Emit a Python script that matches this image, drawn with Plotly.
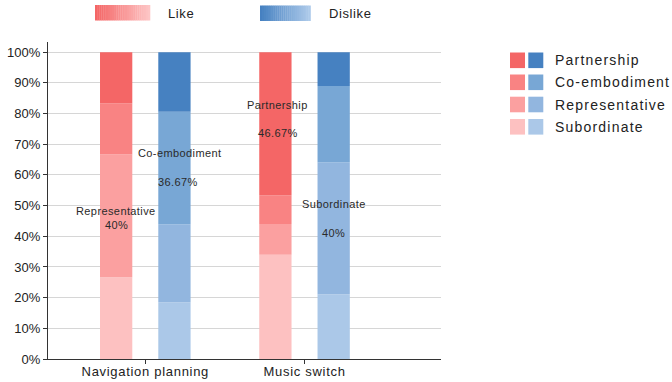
import plotly.graph_objects as go

# Share of participants per collaboration style, stacked bottom to top
categories = ["Navigation planning", "Music switch"]
levels = ["Subordinate", "Representative", "Co-embodiment", "Partnership"]

like_subordinate = [26.67, 34.0]
like_representative = [40.0, 10.0]
like_coembodiment = [16.66, 9.33]
like_partnership = [16.67, 46.67]

dislike_subordinate = [18.5, 21.1]
dislike_representative = [25.4, 43.0]
dislike_coembodiment = [36.67, 24.9]
dislike_partnership = [19.43, 11.0]

y_ticks = [0, 10, 20, 30, 40, 50, 60, 70, 80, 90, 100]

like_colors = ["#FDC1C1", "#FBA0A0", "#F98383", "#F46666"]
dislike_colors = ["#ABC8E8", "#92B6DF", "#78A7D5", "#4681C1"]

FONT = "Liberation Sans, Arial, sans-serif"


def spaced(text, px):
    return f'<span style="letter-spacing:{px}px">{text}</span>'


fig = go.Figure()


def add_stack(series, colors, group, name):
    base = [0.0] * len(categories)
    for level, vals, col in zip(levels, series, colors):
        fig.add_trace(go.Bar(
            x=categories, y=vals, base=list(base),
            name=f"{name} - {level}",
            offsetgroup=group,
            marker=dict(color=col, line=dict(width=0)),
            showlegend=False,
            hovertemplate=f"{name} / {level}: %{{y}}%<extra></extra>",
        ))
        base = [b + v for b, v in zip(base, vals)]


add_stack([like_subordinate, like_representative, like_coembodiment, like_partnership],
          like_colors, "like", "Like")
add_stack([dislike_subordinate, dislike_representative, dislike_coembodiment, dislike_partnership],
          dislike_colors, "dislike", "Dislike")

bar_shift = 29  # half the distance between the paired bars, in px

annotations = []


def label(cat, side, y, text, nudge=0):
    annotations.append(dict(
        x=cat, y=y, xref="x", yref="y", text=spaced(text, 0.4),
        showarrow=False, xshift=side * bar_shift + nudge,
        font=dict(family=FONT, size=11, color="#2a2a2a"),
    ))


label(categories[0], 1, 67.0, "Co-embodiment", 5)
label(categories[0], 1, 57.8, f"{dislike_coembodiment[0]:g}%", 4)
label(categories[0], -1, 48.3, "Representative")
label(categories[0], -1, 43.6, f"{like_representative[0]:g}%")
label(categories[1], -1, 82.7, "Partnership", 2)
label(categories[1], -1, 73.5, f"{like_partnership[1]:g}%", 2)
label(categories[1], 1, 50.4, "Subordinate")
label(categories[1], 1, 41.1, "40%")

W, H = 672, 382
shapes = []


def px_rect(x0, y0, x1, y1, color):
    shapes.append(dict(type="rect", xref="paper", yref="paper",
                       x0=x0, x1=x1, y0=y0, y1=y1,
                       fillcolor=color, line=dict(width=0), layer="above"))


# paper coordinates for a pixel box (plot area 48..441 x 42..359)
L, R, T, B = 48, 441, 42, 359


def to_paper_x(px):
    return (px - L) / (R - L)


def to_paper_y(py):
    return (B - py) / (B - T)


def hex_rgb(h):
    h = h.lstrip("#")
    return tuple(int(h[i:i + 2], 16) for i in (0, 2, 4))


def gradient_box(x0, x1, y0, y1, c0, c1, steps=26):
    a, b = hex_rgb(c0), hex_rgb(c1)
    for i in range(steps):
        t = i / (steps - 1)
        col = "rgb({},{},{})".format(*[round(a[k] + (b[k] - a[k]) * t) for k in range(3)])
        xa = x0 + (x1 - x0) * i / steps
        xb = x0 + (x1 - x0) * (i + 1) / steps + 0.3
        px_rect(to_paper_x(xa), to_paper_y(y1), to_paper_x(xb), to_paper_y(y0), col)


# header legend with gradient swatches
gradient_box(95, 150, 5, 20.5, "#F46666", "#FDC5C5")
gradient_box(260, 310.5, 5.5, 21, "#4681C1", "#ADCAEA")
for text, xpx in [("Like", 166), ("Dislike", 327)]:
    annotations.append(dict(
        x=to_paper_x(xpx), y=to_paper_y(13.3), xref="paper", yref="paper",
        text=spaced(text, 0.6), showarrow=False, xanchor="left", yanchor="middle",
        font=dict(family=FONT, size=13, color="#222222"),
    ))

# side legend: paired swatches per level, top to bottom
row_centers = [60.3, 82.3, 104.5, 126.8]
for i, level in enumerate(reversed(levels)):
    yc = row_centers[i]
    lc = like_colors[len(levels) - 1 - i]
    dc = dislike_colors[len(levels) - 1 - i]
    px_rect(to_paper_x(510), to_paper_y(yc + 7.8), to_paper_x(525), to_paper_y(yc - 7.8), lc)
    px_rect(to_paper_x(528.3), to_paper_y(yc + 7.8), to_paper_x(543.3), to_paper_y(yc - 7.8), dc)
    annotations.append(dict(
        x=to_paper_x(553), y=to_paper_y(yc), xref="paper", yref="paper",
        text=spaced(level, 1.2), showarrow=False, xanchor="left", yanchor="middle",
        font=dict(family=FONT, size=14, color="#222222"),
    ))

fig.update_layout(
    width=W, height=H,
    margin=dict(l=L, r=W - R, t=T, b=H - B, pad=0, autoexpand=False),
    paper_bgcolor="white", plot_bgcolor="white",
    barmode="group", bargap=0.268, bargroupgap=0.446,
    showlegend=False,
    font=dict(family=FONT, size=13, color="#222222"),
    annotations=annotations, shapes=shapes,
)
fig.update_xaxes(
    type="category", range=[-0.611, 1.857], automargin=False,
    tickmode="array", tickvals=categories,
    ticktext=[spaced(c, 0.7) for c in categories],
    showline=True, linecolor="#333333", linewidth=1.2,
    ticks="outside", ticklen=4, tickcolor="#333333", ticklabelstandoff=-4,
    showgrid=False, tickfont=dict(family=FONT, size=13, color="#222222"),
)
fig.update_yaxes(
    range=[0, 103.3], tickmode="array", tickvals=y_ticks, automargin=False,
    ticktext=[f"{v}%" for v in y_ticks],
    showline=True, linecolor="#333333", linewidth=1.2,
    ticks="outside", ticklen=4, tickcolor="#333333",
    showgrid=True, gridcolor="#D6D6D6", gridwidth=1.4,
    zeroline=False, tickfont=dict(family=FONT, size=13, color="#222222"),
)

fig.write_html("out.html")
